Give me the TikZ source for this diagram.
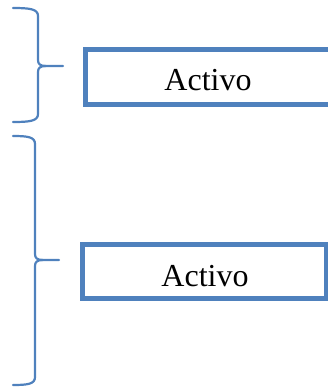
\documentclass[tikz,border=0pt]{standalone}
\usepackage{fontspec}
\setmainfont{Liberation Serif}
\definecolor{accblue}{HTML}{4F81BD}
\begin{document}
\begin{tikzpicture}[x=1pt,y=-1pt,
  activebox/.style={draw=accblue,line width=5pt,minimum width=248pt,minimum height=55pt,inner sep=0pt},
  boxtext/.style={anchor=base,font=\fontsize{32}{38}\selectfont,inner sep=0pt},
  bracepath/.style={draw=accblue,line width=2.2pt,line cap=round,line join=round}]
\useasboundingbox (0,0) rectangle (328,391);
\clip (0,0) rectangle (328,391);
% top brace
\path[bracepath] (13,8) .. controls (30,8) and (38,9) .. (38,16) -- (38,60)
  .. controls (38,64) and (40,66) .. (46,66) -- (63,66);
\path[bracepath] (46,66) .. controls (40,66) and (38,68) .. (38,72) -- (38,114)
  .. controls (38,121) and (30,122) .. (13,122);
% bottom brace
\path[bracepath] (13,136) .. controls (28,136) and (35,137) .. (35,144) -- (35,254)
  .. controls (35,258) and (37,260) .. (43,260) -- (59,260);
\path[bracepath] (43,260) .. controls (37,260) and (35,262) .. (35,266) -- (35,377)
  .. controls (35,384) and (28,385) .. (13,385);
% boxes
\node[activebox] (b1) at (209,76.5) {};
\node[boxtext] (t1) at (208,90.5) {Activo};
\node[activebox,minimum width=244pt,minimum height=54.5pt] (b2) at (204.5,271.25) {};
\node[boxtext] (t2) at (205,286) {Activo};
\end{tikzpicture}
\end{document}
